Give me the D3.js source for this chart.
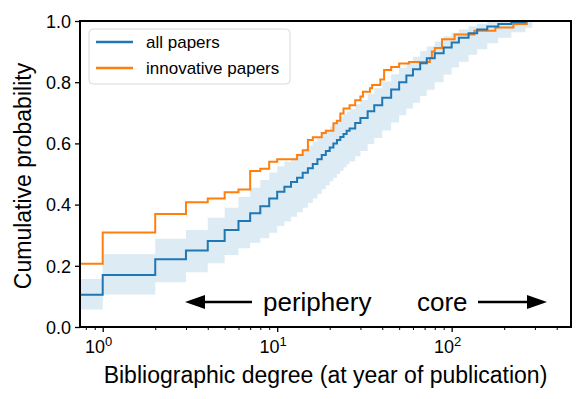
<!DOCTYPE html>
<html>
<head>
<meta charset="utf-8">
<script src="https://cdn.jsdelivr.net/npm/d3@7"></script>
<style>
  body { margin: 0; background: #fff; }
  svg text { font-family: "Liberation Sans", Arial, Helvetica, sans-serif; fill: #000; }
</style>
</head>
<body>
<div id="chart"></div>
<script>
// all papers: CDF steps (degree -> cumulative probability)
const allDegrees = [0, 1, 2, 3, 4, 5, 6, 7, 8, 9, 10, 11, 12, 13, 14, 15, 16, 17, 18, 19, 20,
  21, 22, 23, 24, 25, 26, 28, 30, 33, 36, 40, 45, 50, 55, 60, 66, 72, 80, 90, 100,
  110, 125, 140, 160, 185, 220, 265];
const allValues = [0.105, 0.17, 0.221, 0.25, 0.281, 0.317, 0.346, 0.372, 0.395, 0.42, 0.442,
  0.458, 0.474, 0.488, 0.504, 0.519, 0.533, 0.548, 0.562, 0.575, 0.587,
  0.6, 0.611, 0.621, 0.631, 0.641, 0.649, 0.667, 0.683, 0.705, 0.725, 0.749, 0.776, 0.8,
  0.822, 0.842, 0.862, 0.878, 0.895, 0.913, 0.93,
  0.945, 0.96, 0.972, 0.982, 0.99, 0.996, 1.0];

// shaded band around all papers
const bandDegrees = [0, 1, 2, 3, 4, 5, 6, 7, 8, 9, 10, 11, 12, 13, 14, 15, 16, 17, 18, 19, 20,
  21, 22, 23, 24, 25, 26, 28, 30, 33, 36, 40, 45, 50, 55, 60, 66, 72, 80, 90, 100,
  110, 125, 140, 160, 185, 220, 265, 290];
const bandLower = [0.057, 0.106, 0.146, 0.179, 0.208, 0.235, 0.257, 0.275, 0.29, 0.308, 0.33,
  0.345, 0.36, 0.375, 0.39, 0.405, 0.42, 0.435, 0.45, 0.463, 0.476,
  0.488, 0.5, 0.511, 0.522, 0.532, 0.541, 0.558, 0.575, 0.598, 0.618, 0.642, 0.668, 0.692,
  0.714, 0.733, 0.755, 0.775, 0.8, 0.825, 0.848,
  0.867, 0.89, 0.908, 0.927, 0.945, 0.963, 0.978, 0.978];
const bandUpper = [0.157, 0.238, 0.288, 0.317, 0.357, 0.39, 0.425, 0.455, 0.48, 0.505, 0.525,
  0.54, 0.553, 0.566, 0.58, 0.593, 0.606, 0.62, 0.632, 0.644, 0.655,
  0.666, 0.676, 0.686, 0.695, 0.704, 0.712, 0.728, 0.742, 0.762, 0.78, 0.802, 0.826, 0.847,
  0.866, 0.883, 0.902, 0.917, 0.933, 0.95, 0.962,
  0.972, 0.983, 0.991, 0.997, 1.0, 1.0, 1.0, 1.0];

// innovative papers: CDF steps
const innovDegrees = [0, 1, 2, 3, 4, 5, 6, 7, 8, 9, 10, 13, 14, 15, 16, 18, 19, 21, 22, 23, 24,
  26, 28, 30, 31, 34, 35, 39, 41, 45, 50, 57, 75, 77, 80, 88, 104, 135, 178, 226, 270];
const innovValues = [0.207, 0.309, 0.369, 0.408, 0.42, 0.44, 0.449, 0.51, 0.517, 0.54, 0.548,
  0.562, 0.578, 0.611, 0.62, 0.634, 0.641, 0.666, 0.674, 0.698, 0.714,
  0.725, 0.741, 0.753, 0.769, 0.78, 0.791, 0.809, 0.84, 0.85, 0.861, 0.866, 0.879, 0.9,
  0.912, 0.94, 0.956, 0.968, 0.979, 0.99, 1.0];

const yTicks = [0, 0.2, 0.4, 0.6, 0.8, 1.0];
const xMajor = [1, 10, 100];
const seriesNames = ['all papers', 'innovative papers'];

const width = 586;
const height = 399;
const margin = { top: 21, right: 15, bottom: 72, left: 80 };
const xMin = 0.741;

const svg = d3.select('#chart')
  .append('svg')
  .attr('width', width)
  .attr('height', height);

const x = d3.scaleLog()
  .domain([xMin, 483])
  .range([margin.left, width - margin.right]);

const y = d3.scaleLinear()
  .domain([0, 1])
  .range([height - margin.bottom, margin.top]);

const xc = (d) => x(Math.max(d, xMin));

// band
const band = bandDegrees.map((d, i) => ({ d, lo: bandLower[i], hi: bandUpper[i] }));
svg.append('path')
  .datum(band)
  .attr('fill', '#ddebf4')
  .attr('d', d3.area()
    .curve(d3.curveStepAfter)
    .x((p) => xc(p.d))
    .y0((p) => y(p.lo))
    .y1((p) => y(p.hi)));

const stepLine = d3.line()
  .curve(d3.curveStepAfter)
  .x((p) => xc(p.d))
  .y((p) => y(p.v));

const allData = allDegrees.map((d, i) => ({ d, v: allValues[i] }));
const innovData = innovDegrees.map((d, i) => ({ d, v: innovValues[i] }));

svg.append('path')
  .datum(innovData)
  .attr('fill', 'none')
  .attr('stroke', '#ff7f0e')
  .attr('stroke-width', 2)
  .attr('d', stepLine);

svg.append('path')
  .datum(allData)
  .attr('fill', 'none')
  .attr('stroke', '#1f77b4')
  .attr('stroke-width', 2)
  .attr('d', stepLine);

// frame
svg.append('rect')
  .attr('x', margin.left)
  .attr('y', margin.top)
  .attr('width', width - margin.right - margin.left)
  .attr('height', height - margin.bottom - margin.top)
  .attr('fill', 'none')
  .attr('stroke', '#000')
  .attr('stroke-width', 2);

// y axis
const yAxis = svg.append('g')
  .attr('transform', `translate(${margin.left},0)`)
  .call(d3.axisLeft(y).tickValues(yTicks).tickFormat(d3.format('.1f')).tickSize(5).tickPadding(4));
yAxis.select('.domain').remove();
yAxis.selectAll('line').attr('stroke-width', 1.3);
yAxis.selectAll('text').style('font-size', '18px').attr('dy', '0.35em');

// x axis: major and minor ticks
const bottom = height - margin.bottom;
const minor = [];
[0.1, 1, 10, 100].forEach((dec) => {
  for (let k = 2; k <= 9; k += 1) {
    const v = dec * k;
    if (v > xMin && v < 483) minor.push(v);
  }
});
const xAxis = svg.append('g')
  .attr('transform', `translate(0,${bottom})`)
  .call(d3.axisBottom(x).tickValues(minor).tickFormat('').tickSize(3));
xAxis.select('.domain').remove();
xAxis.selectAll('line').attr('stroke-width', 1);

const xMajorAxis = svg.append('g')
  .attr('transform', `translate(0,${bottom})`)
  .call(d3.axisBottom(x).tickValues(xMajor).tickFormat('').tickSize(5));
xMajorAxis.select('.domain').remove();
xMajorAxis.selectAll('line').attr('stroke-width', 1.3);

xMajor.forEach((v) => {
  const t = svg.append('text')
    .attr('x', x(v) - 4)
    .attr('y', bottom + 26)
    .attr('text-anchor', 'middle')
    .style('font-size', '18px');
  t.append('tspan').text('10');
  t.append('tspan')
    .attr('dy', -7)
    .style('font-size', '13px')
    .text(Math.round(Math.log10(v)));
});

// axis labels
svg.append('text')
  .attr('x', (margin.left + width - margin.right) / 2)
  .attr('y', 383)
  .attr('text-anchor', 'middle')
  .style('font-size', '23px')
  .text('Bibliographic degree (at year of publication)');

svg.append('text')
  .attr('transform', `translate(31,${(margin.top + bottom) / 2 + 2}) rotate(-90)`)
  .attr('text-anchor', 'middle')
  .style('font-size', '23px')
  .text('Cumulative probability');

// periphery / core annotation
const annY = 302;
svg.append('text')
  .attr('x', 263)
  .attr('y', annY + 9)
  .style('font-size', '26px')
  .text('periphery');
svg.append('text')
  .attr('x', 417)
  .attr('y', annY + 9)
  .style('font-size', '26px')
  .text('core');

svg.append('line')
  .attr('x1', 200).attr('x2', 252)
  .attr('y1', annY).attr('y2', annY)
  .attr('stroke', '#000').attr('stroke-width', 2.5);
svg.append('path')
  .attr('d', `M185,${annY} L205,${annY - 7} L205,${annY + 7} Z`)
  .attr('fill', '#000');
svg.append('line')
  .attr('x1', 478).attr('x2', 532)
  .attr('y1', annY).attr('y2', annY)
  .attr('stroke', '#000').attr('stroke-width', 2.5);
svg.append('path')
  .attr('d', `M547,${annY} L527,${annY - 7} L527,${annY + 7} Z`)
  .attr('fill', '#000');

// legend
const legend = svg.append('g');
legend.append('rect')
  .attr('x', 89).attr('y', 29)
  .attr('width', 201).attr('height', 55)
  .attr('rx', 4)
  .attr('fill', '#fff')
  .attr('fill-opacity', 0.8)
  .attr('stroke', '#d9d9d9');
const legendColors = ['#1f77b4', '#ff7f0e'];
seriesNames.forEach((name, i) => {
  const ly = 42 + i * 26;
  legend.append('line')
    .attr('x1', 96).attr('x2', 133)
    .attr('y1', ly).attr('y2', ly)
    .attr('stroke', legendColors[i])
    .attr('stroke-width', 2.5);
  legend.append('text')
    .attr('x', 146)
    .attr('y', ly + 6)
    .style('font-size', '17px')
    .text(name);
});
</script>
</body>
</html>
